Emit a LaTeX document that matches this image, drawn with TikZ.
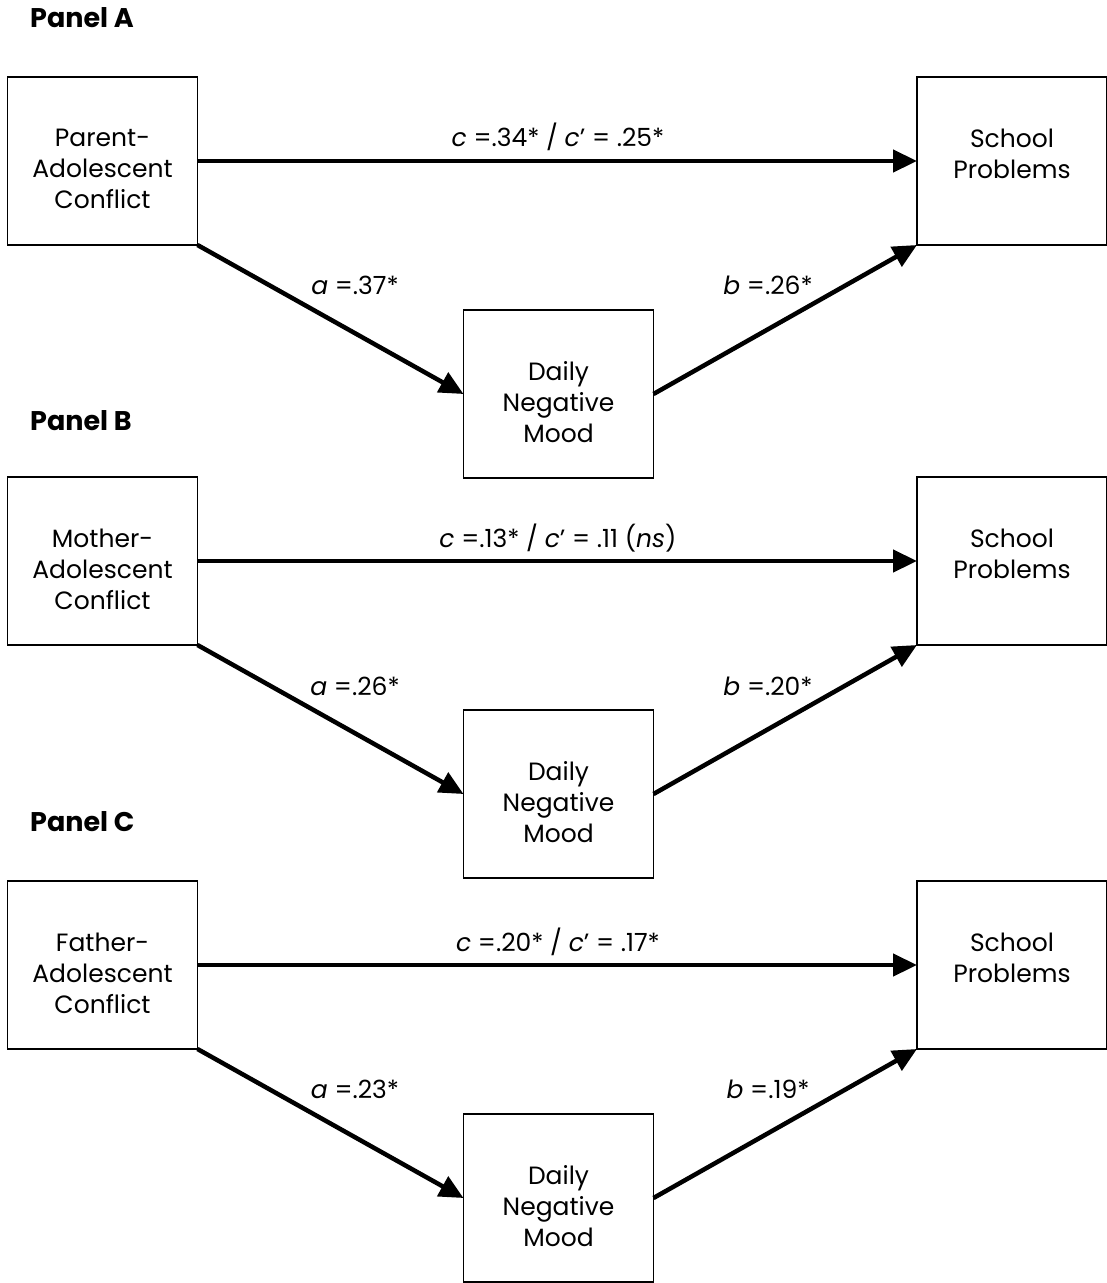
\documentclass[tikz,border=0pt]{standalone}
\usepackage{fontspec}
\setmainfont{Poppins}
\usetikzlibrary{arrows.meta}
\begin{document}
\begin{tikzpicture}[x=1pt,y=-1pt,
  box/.style={draw, line width=1.6pt, minimum width=190pt, minimum height=168pt,
    inner sep=0pt, outer sep=0pt},
  boxtext/.style={align=center, inner sep=0pt, font=\fontsize{25}{31}\selectfont},
  arr/.style={line width=4.5pt, -{Triangle[length=24pt,width=22pt]}},
  coef/.style={font=\fontsize{25}{30}\selectfont, inner sep=0pt},
  panel/.style={font=\bfseries\fontsize{27}{30}\selectfont, anchor=west, inner sep=0pt}]
\useasboundingbox (0,0) rectangle (1107,1283);

% Panel A: parent-adolescent conflict
\begin{scope}
  \node[panel] (labA) at (30,18) {Panel A};
  \node[box] (xA) at (102.5,161) {};
  \node[box] (yA) at (1012,161) {};
  \node[box] (mA) at (558.5,394) {};
  \node[boxtext] (xAt) at ([yshift=-8pt]xA.center) {Parent-\\Adolescent\\Conflict};
  \node[boxtext] (yAt) at ([yshift=-8pt]yA.center) {School\\Problems\\\phantom{C}};
  \node[boxtext] (mAt) at ([yshift=-8pt]mA.center) {Daily\\Negative\\Mood};
  \draw[arr] (xA.east) -- (yA.west);
  \draw[arr] (xA.south east) -- (mA.west);
  \draw[arr] (mA.east) -- (yA.south west);
  \node[coef] (cA) at (558,137) {\textit{c} =.34* / \textit{c}’ = .25*};
  \node[coef] (aA) at (355,285) {\textit{a} =.37*};
  \node[coef] (bA) at (768,285) {\textit{b} =.26*};
\end{scope}

% Panel B: mother-adolescent conflict
\begin{scope}[yshift=-400pt]
  \node[panel] (labB) at (30,21) {Panel B};
  \node[box] (xB) at (102.5,161) {};
  \node[box] (yB) at (1012,161) {};
  \node[box] (mB) at (558.5,394) {};
  \node[boxtext] (xBt) at ([yshift=-8pt]xB.center) {Mother-\\Adolescent\\Conflict};
  \node[boxtext] (yBt) at ([yshift=-8pt]yB.center) {School\\Problems\\\phantom{C}};
  \node[boxtext] (mBt) at ([yshift=-8pt]mB.center) {Daily\\Negative\\Mood};
  \draw[arr] (xB.east) -- (yB.west);
  \draw[arr] (xB.south east) -- (mB.west);
  \draw[arr] (mB.east) -- (yB.south west);
  \node[coef] (cB) at (558,138) {\textit{c} =.13* / \textit{c}’ = .11 (\textit{ns})};
  \node[coef] (aB) at (355,286) {\textit{a} =.26*};
  \node[coef] (bB) at (768,286) {\textit{b} =.20*};
\end{scope}

% Panel C: father-adolescent conflict
\begin{scope}[yshift=-804pt]
  \node[panel] (labC) at (30,18) {Panel C};
  \node[box] (xC) at (102.5,161) {};
  \node[box] (yC) at (1012,161) {};
  \node[box] (mC) at (558.5,394) {};
  \node[boxtext] (xCt) at ([yshift=-8pt]xC.center) {Father-\\Adolescent\\Conflict};
  \node[boxtext] (yCt) at ([yshift=-8pt]yC.center) {School\\Problems\\\phantom{C}};
  \node[boxtext] (mCt) at ([yshift=-8pt]mC.center) {Daily\\Negative\\Mood};
  \draw[arr] (xC.east) -- (yC.west);
  \draw[arr] (xC.south east) -- (mC.west);
  \draw[arr] (mC.east) -- (yC.south west);
  \node[coef] (cC) at (558,138) {\textit{c} =.20* / \textit{c}’ = .17*};
  \node[coef] (aC) at (355,285) {\textit{a} =.23*};
  \node[coef] (bC) at (768,285) {\textit{b} =.19*};
\end{scope}
\end{tikzpicture}
\end{document}
